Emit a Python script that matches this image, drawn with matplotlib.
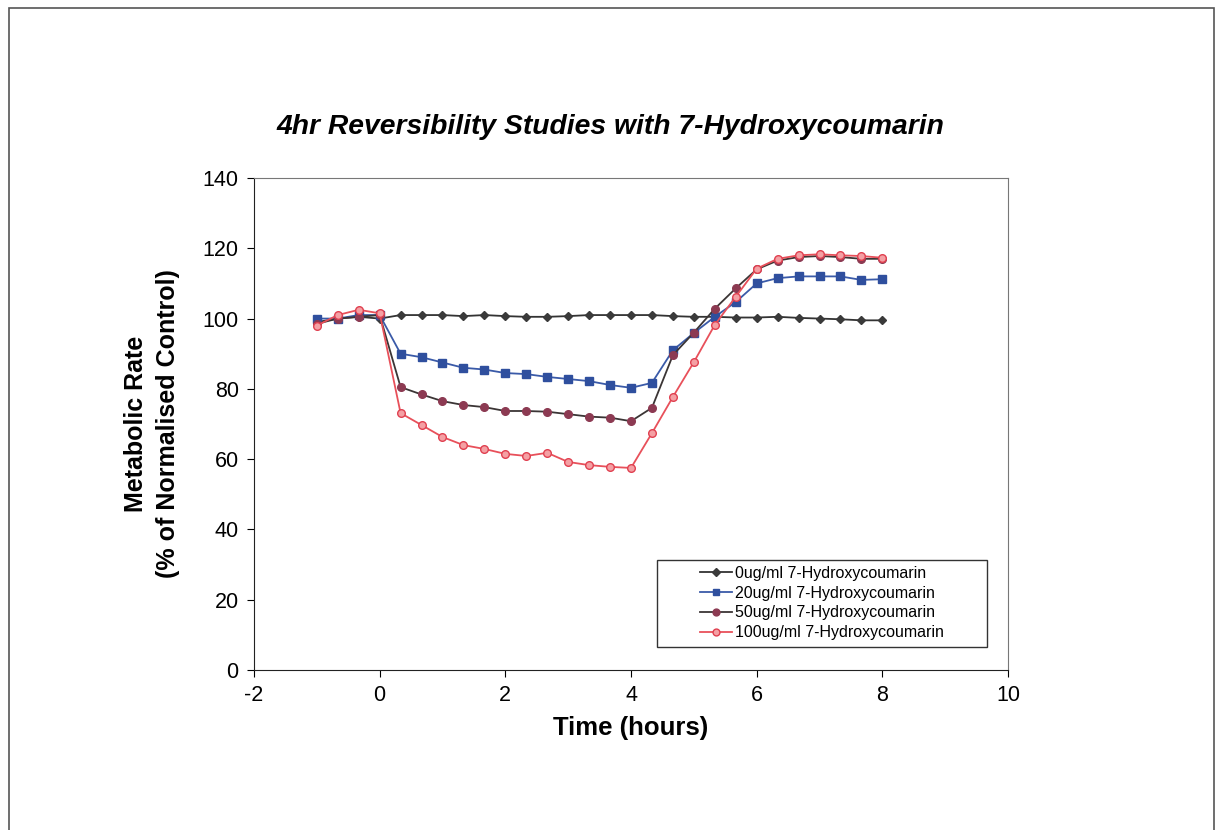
import numpy as np
import matplotlib.pyplot as plt
from matplotlib.patches import Rectangle

plt.rcParams['font.family'] = ['Liberation Sans', 'DejaVu Sans']
plt.rcParams['axes.unicode_minus'] = False

# sampling times (hours), every 20 minutes
time_h = [-1, -0.667, -0.333, 0, 0.333, 0.667, 1, 1.333, 1.667, 2, 2.333, 2.667, 3, 3.333,
          3.667, 4, 4.333, 4.667, 5, 5.333, 5.667, 6, 6.333, 6.667, 7, 7.333, 7.667, 8]

rate_0 = [99, 100, 100.5, 100, 101, 101, 101, 100.7, 101, 100.7, 100.5, 100.5, 100.7, 101,
          101, 101, 101, 100.7, 100.5, 100.5, 100.3, 100.3, 100.5, 100.2, 100, 99.8, 99.5, 99.5]
rate_20 = [100, 100, 101, 101, 90, 89, 87.5, 86, 85.5, 84.5, 84.2, 83.4, 82.8, 82.2,
           81.1, 80.3, 81.7, 91, 95.9, 100.5, 104.7, 110, 111.5, 112, 112, 112, 111, 111.2]
rate_50 = [98.5, 100, 100.5, 101, 80.5, 78.4, 76.5, 75.4, 74.8, 73.7, 73.7, 73.5, 72.8, 72.1,
           71.8, 70.8, 74.6, 89.6, 96, 102.8, 108.6, 114, 116.5, 117.5, 117.8, 117.5, 117, 117]
rate_100 = [98, 101, 102.5, 101.5, 73.1, 69.7, 66.3, 64, 62.9, 61.5, 60.9, 61.8, 59.2, 58.3,
            57.8, 57.5, 67.4, 77.7, 87.6, 98.2, 106.2, 114.2, 117, 118, 118.3, 118, 117.8, 117.3]

labels = ["0ug/ml 7-Hydroxycoumarin", "20ug/ml 7-Hydroxycoumarin",
          "50ug/ml 7-Hydroxycoumarin", "100ug/ml 7-Hydroxycoumarin"]

fig = plt.figure(figsize=(12.15, 8.3), dpi=100)
fig.patches.append(Rectangle((0.007, -0.01), 0.992, 1.0, transform=fig.transFigure,
                             fill=False, edgecolor="#555555", linewidth=1.2))

ax = fig.add_axes([254/1215, 1-670/830, (1008-254)/1215, (670-178)/830])

ax.plot(time_h, rate_0, color="#333333", linewidth=1.3, marker="D", markersize=4.5,
        markerfacecolor="#3a3a3a", markeredgecolor="#3a3a3a", label=labels[0])
ax.plot(time_h, rate_20, color="#3a5aa8", linewidth=1.3, marker="s", markersize=5.5,
        markerfacecolor="#2f4f9e", markeredgecolor="#2f4f9e", label=labels[1])
ax.plot(time_h, rate_50, color="#3b3535", linewidth=1.3, marker="o", markersize=5.5,
        markerfacecolor="#8c3a52", markeredgecolor="#8c3a52", label=labels[2])
ax.plot(time_h, rate_100, color="#e8505a", linewidth=1.3, marker="o", markersize=5.5,
        markerfacecolor="#f4a0a4", markeredgecolor="#e04050", label=labels[3])

ax.set_xlim(-2, 10)
ax.set_ylim(0, 140)
ax.set_xticks(range(-2, 11, 2))
ax.set_yticks(range(0, 141, 20))
ax.tick_params(labelsize=15.5, direction="out", length=5, pad=6)

for side in ["top", "right"]:
    ax.spines[side].set_color("#777777")
for side in ["left", "bottom"]:
    ax.spines[side].set_color("#222222")

ax.set_xlabel("Time (hours)", fontsize=18.5, fontweight="bold", labelpad=7)
ax.set_ylabel("Metabolic Rate\n(% of Normalised Control)", fontsize=18,
              fontweight="bold", labelpad=16, linespacing=1.45)
fig.text(610/1215, 1-127/830, "4hr Reversibility Studies with 7-Hydroxycoumarin",
         fontsize=20.3, fontweight="bold", style="italic", ha="center", va="center")

# Excel-style legend box, wider than its entries
ax.add_patch(Rectangle((0.5345, 0.0467), 0.4375, 0.177, transform=ax.transAxes,
                       fill=True, facecolor="white", edgecolor="#333333",
                       linewidth=1.0, zorder=4))
leg = ax.legend(loc="center left", bbox_to_anchor=(0.5915, 0.136), fontsize=11.5,
                frameon=False, handlelength=2.0, handletextpad=0.2, borderpad=0,
                labelspacing=0.3, borderaxespad=0, markerscale=0.9)
leg.set_zorder(5)

plt.savefig("out.png", dpi=100)
